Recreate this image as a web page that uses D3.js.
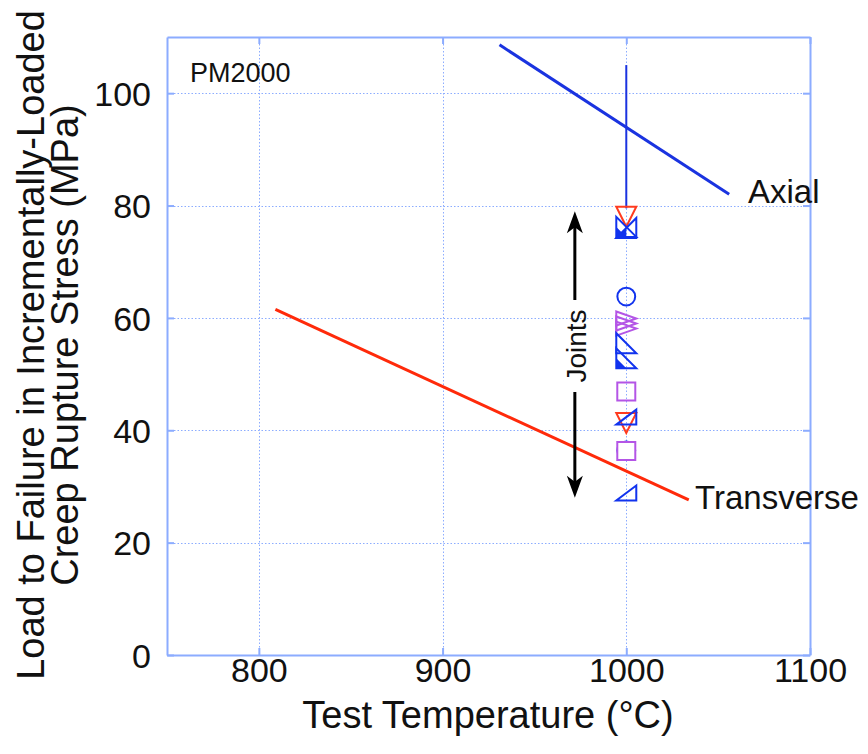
<!DOCTYPE html>
<html>
<head>
<meta charset="utf-8">
<script src="https://cdn.jsdelivr.net/npm/d3@7"></script>
<style>
  body { margin: 0; background: #fff; }
  svg text { font-family: "Liberation Sans", Arial, Helvetica, sans-serif; fill: #111; }
</style>
</head>
<body>
<svg id="chart" width="868" height="754"></svg>
<script>
'use strict';

// data
var xTicks = [800, 900, 1000, 1100]
  , yTicks = [0, 20, 40, 60, 80, 100]
  , axialLine = [[931, 108.6], [1056, 82]]
  , transverseLine = [[809, 61.5], [1034, 27.6]]
  , axialBar = [[1000, 105], [1000, 79.5]]
  , jointsArrow = [[972, 79], [972, 28]];

// joint specimens at 1000 C: [temperature, stress, shape, colour, fill]
var points = [
  [1000, 78.0, 'down',  '#ff3b1f', 'none'],
  [1000, 76.0, 'upL',   '#1133ee', 'half'],
  [1000, 76.2, 'upR',   '#1133ee', 'half'],
  [1000, 63.8, 'circle','#1133ee', 'none'],
  [1000, 59.9, 'right', '#b455e6', 'none'],
  [1000, 59.0, 'right', '#b455e6', 'none'],
  [1000, 58.1, 'right', '#b455e6', 'none'],
  [1000, 55.5, 'upR',   '#1133ee', 'none'],
  [1000, 52.8, 'upR',   '#1133ee', 'half'],
  [1000, 46.9, 'square','#b455e6', 'none'],
  [1000, 41.3, 'down',  '#ff3b1f', 'none'],
  [1000, 41.9, 'left',  '#1133ee', 'none'],
  [1000, 36.4, 'circle','#1133ee', 'none'],
  [1000, 36.3, 'square','#b455e6', 'white'],
  [1000, 28.4, 'left',  '#1133ee', 'none']
];

(function(){

var svg = d3.select('#chart')
  , frame = '#8cacff'
  , pl = 167, pr = 810, pt = 37, pb = 655;

var x = d3.scaleLinear().domain([750, 1100]).range([pl, pr])
  , y = d3.scaleLinear().domain([0, 110]).range([pb, pt]);

function snap(v){ return Math.round(v) + 0.5; }

// grid
svg.append('g').selectAll('line')
  .data(xTicks.filter(function(d){ return d < 1100; }))
  .enter().append('line')
  .attr('x1', function(d){ return snap(x(d)); }).attr('x2', function(d){ return snap(x(d)); })
  .attr('y1', pt).attr('y2', pb)
  .attr('stroke', frame).attr('stroke-width', 1).attr('stroke-dasharray', '1.5,2');

svg.append('g').selectAll('line')
  .data(yTicks.filter(function(d){ return d > 0; }))
  .enter().append('line')
  .attr('x1', pl).attr('x2', pr)
  .attr('y1', function(d){ return snap(y(d)); }).attr('y2', function(d){ return snap(y(d)); })
  .attr('stroke', frame).attr('stroke-width', 1).attr('stroke-dasharray', '1.5,2');

// axes, ticks inward
var xAxis = svg.append('g').attr('transform', 'translate(0,' + pb + ')')
  .call(d3.axisBottom(x).tickValues(xTicks).tickSizeInner(-7).tickSizeOuter(0).tickPadding(3).tickFormat(d3.format('d')));
var xTop = svg.append('g').attr('transform', 'translate(0,' + pt + ')')
  .call(d3.axisTop(x).tickValues(xTicks).tickSizeInner(-7).tickSizeOuter(0).tickFormat(''));
var yAxis = svg.append('g').attr('transform', 'translate(' + pl + ',0)')
  .call(d3.axisLeft(y).tickValues(yTicks).tickSizeInner(-7).tickSizeOuter(0).tickPadding(16));
var yRight = svg.append('g').attr('transform', 'translate(' + pr + ',0)')
  .call(d3.axisRight(y).tickValues(yTicks).tickSizeInner(-7).tickSizeOuter(0).tickFormat(''));

[xAxis, xTop, yAxis, yRight].forEach(function(g){
  g.select('.domain').attr('stroke', frame).attr('stroke-width', 2);
  g.selectAll('.tick line').attr('stroke', frame).attr('stroke-width', 2);
  g.selectAll('.tick text').attr('font-size', 34).attr('fill', '#111')
   .attr('font-family', '"Liberation Sans", Arial, sans-serif');
});
yAxis.selectAll('.tick text').attr('dy', '0.36em');

var line = d3.line().x(function(d){ return x(d[0]); }).y(function(d){ return y(d[1]); });

svg.append('path').datum(axialLine).attr('d', line)
  .attr('stroke', '#1a33e0').attr('stroke-width', 3).attr('fill', 'none');
svg.append('path').datum(transverseLine).attr('d', line)
  .attr('stroke', '#ff2a0a').attr('stroke-width', 3).attr('fill', 'none');
svg.append('path').datum(axialBar).attr('d', line)
  .attr('stroke', '#1a33e0').attr('stroke-width', 2).attr('fill', 'none');

// markers
var s = 10;
function shape(kind){
  switch (kind){
    case 'down':   return 'M' + (-s) + ',' + (-s) + 'L' + s + ',' + (-s) + 'L0,' + s + 'Z';
    case 'upL':    return 'M' + (-s) + ',' + s + 'L' + s + ',' + s + 'L' + s + ',' + (-s) + 'Z';
    case 'upR':    return 'M' + (-s) + ',' + s + 'L' + s + ',' + s + 'L' + (-s) + ',' + (-s) + 'Z';
    case 'right':  return 'M' + (-s) + ',' + (-s * 0.7) + 'L' + s + ',0L' + (-s) + ',' + (s * 0.7) + 'Z';
    case 'left':   return 'M' + s + ',' + (-s) + 'L' + (-s) + ',' + (s * 0.5) + 'L' + s + ',' + s * 0.5 + 'Z';
    case 'square': return 'M-9,-9H9V9H-9Z';
    default:       return d3.symbol(d3.symbolCircle, 250)();
  }
}
function half(kind){
  if (kind == 'upL') return 'M' + (-s) + ',' + s + 'L0,' + s + 'L0,0Z';
  return 'M' + (-s) + ',' + s + 'L0,' + s + 'L' + (-s) + ',0Z';
}

var pts = svg.append('g').selectAll('g').data(points).enter().append('g')
  .attr('transform', function(d){ return 'translate(' + x(d[0]) + ',' + y(d[1]) + ')'; });

pts.append('path')
  .attr('d', function(d){ return shape(d[2]); })
  .attr('fill', function(d){ return d[4] == 'white' ? '#fff' : 'none'; })
  .attr('stroke', function(d){ return d[3]; })
  .attr('stroke-width', 2);

pts.filter(function(d){ return d[4] == 'half'; }).append('path')
  .attr('d', function(d){ return half(d[2]); })
  .attr('fill', function(d){ return d[3]; });

// joints arrow
var ax = x(jointsArrow[0][0]), ay1 = y(jointsArrow[0][1]), ay2 = y(jointsArrow[1][1]);
function head(yy, dir){
  return 'M' + ax + ',' + yy + 'L' + (ax - 8) + ',' + (yy + dir * 22) + 'L' + ax + ',' + (yy + dir * 16) +
         'L' + (ax + 8) + ',' + (yy + dir * 22) + 'Z';
}
svg.append('line').attr('x1', ax).attr('x2', ax).attr('y1', ay1 + 10).attr('y2', 300)
  .attr('stroke', '#000').attr('stroke-width', 3);
svg.append('line').attr('x1', ax).attr('x2', ax).attr('y1', 392).attr('y2', ay2 - 10)
  .attr('stroke', '#000').attr('stroke-width', 3);
svg.append('path').attr('d', head(ay1, 1)).attr('fill', '#000');
svg.append('path').attr('d', head(ay2, -1)).attr('fill', '#000');

svg.append('text').attr('transform', 'translate(' + (ax + 11) + ',346) rotate(-90)')
  .attr('text-anchor', 'middle').attr('font-size', 28).text('Joints');

// labels
svg.append('text').attr('x', 190).attr('y', 82).attr('font-size', 27).text('PM2000');
svg.append('text').attr('x', 748).attr('y', 203).attr('font-size', 33).text('Axial');
svg.append('text').attr('x', 695).attr('y', 509).attr('font-size', 33).text('Transverse');

svg.append('text').attr('x', 488).attr('y', 728).attr('text-anchor', 'middle')
  .attr('font-size', 38).text('Test Temperature (°C)');

svg.append('text').attr('transform', 'translate(44,345) rotate(-90)')
  .attr('text-anchor', 'middle').attr('font-size', 38).text('Load to Failure in Incrementally-Loaded');
svg.append('text').attr('transform', 'translate(78,345) rotate(-90)')
  .attr('text-anchor', 'middle').attr('font-size', 38).text('Creep Rupture Stress (MPa)');

})();
</script>
</body>
</html>
